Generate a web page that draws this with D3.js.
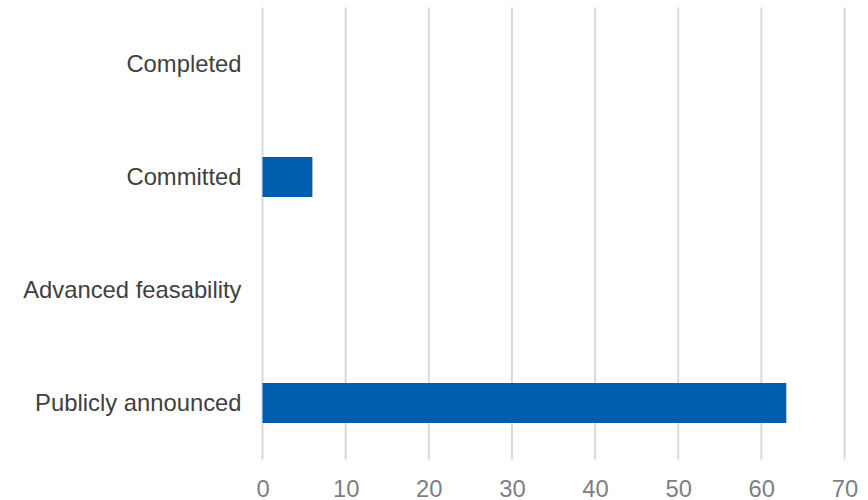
<!DOCTYPE html>
<html>
<head>
<meta charset="utf-8">
<script src="https://cdn.jsdelivr.net/npm/d3@7"></script>
<style>
  html, body { margin: 0; padding: 0; background: #ffffff; }
  svg { display: block; }
</style>
</head>
<body>
<svg id="chart" width="868" height="500"></svg>
<script>
// Project stages and the number of projects in each
const stages = ["Completed", "Committed", "Advanced feasability", "Publicly announced"];
const counts = [0, 6, 0, 63];
const xTicks = [0, 10, 20, 30, 40, 50, 60, 70];

const svg = d3.select("#chart");
const plotLeft = 262.5, plotRight = 844.5, plotTop = 7.5, plotBottom = 459.5;
const fontSize = 23.8;

const x = d3.scaleLinear().domain([0, 70]).range([plotLeft, plotRight]);
const y = d3.scaleBand().domain(stages).range([plotTop, plotBottom])
  .paddingInner(0.646).paddingOuter(0.323);

// vertical gridlines
svg.append("g").selectAll("line").data(xTicks).join("line")
  .attr("x1", d => x(d)).attr("x2", d => x(d))
  .attr("y1", plotTop).attr("y2", plotBottom)
  .attr("stroke", "#d9d9d9").attr("stroke-width", 2);

// bars
svg.append("g").selectAll("rect").data(stages.map((s, i) => ({ s, v: counts[i] })).filter(d => d.v > 0))
  .join("rect")
  .attr("x", x(0))
  .attr("y", d => y(d.s))
  .attr("width", d => x(d.v) - x(0))
  .attr("height", y.bandwidth())
  .attr("fill", "#005eb0");

// x axis tick labels
const xAxis = d3.axisBottom(x).tickValues(xTicks).tickSize(0).tickPadding(0).tickFormat(d3.format("d"));
const gx = svg.append("g").attr("transform", `translate(0, 496.5)`).call(xAxis);
gx.select(".domain").remove();
gx.selectAll("text")
  .attr("y", 0)
  .attr("dy", "0")
  .attr("font-family", "Liberation Sans, Arial, sans-serif")
  .attr("font-size", fontSize)
  .attr("fill", "#7f7f7f");

// y axis category labels
const yAxis = d3.axisLeft(y).tickSize(0).tickPadding(21);
const gy = svg.append("g").attr("transform", `translate(${plotLeft}, 0)`).call(yAxis);
gy.select(".domain").remove();
gy.selectAll("text")
  .attr("font-family", "Liberation Sans, Arial, sans-serif")
  .attr("font-size", fontSize)
  .attr("fill", "#404040");
</script>
</body>
</html>
